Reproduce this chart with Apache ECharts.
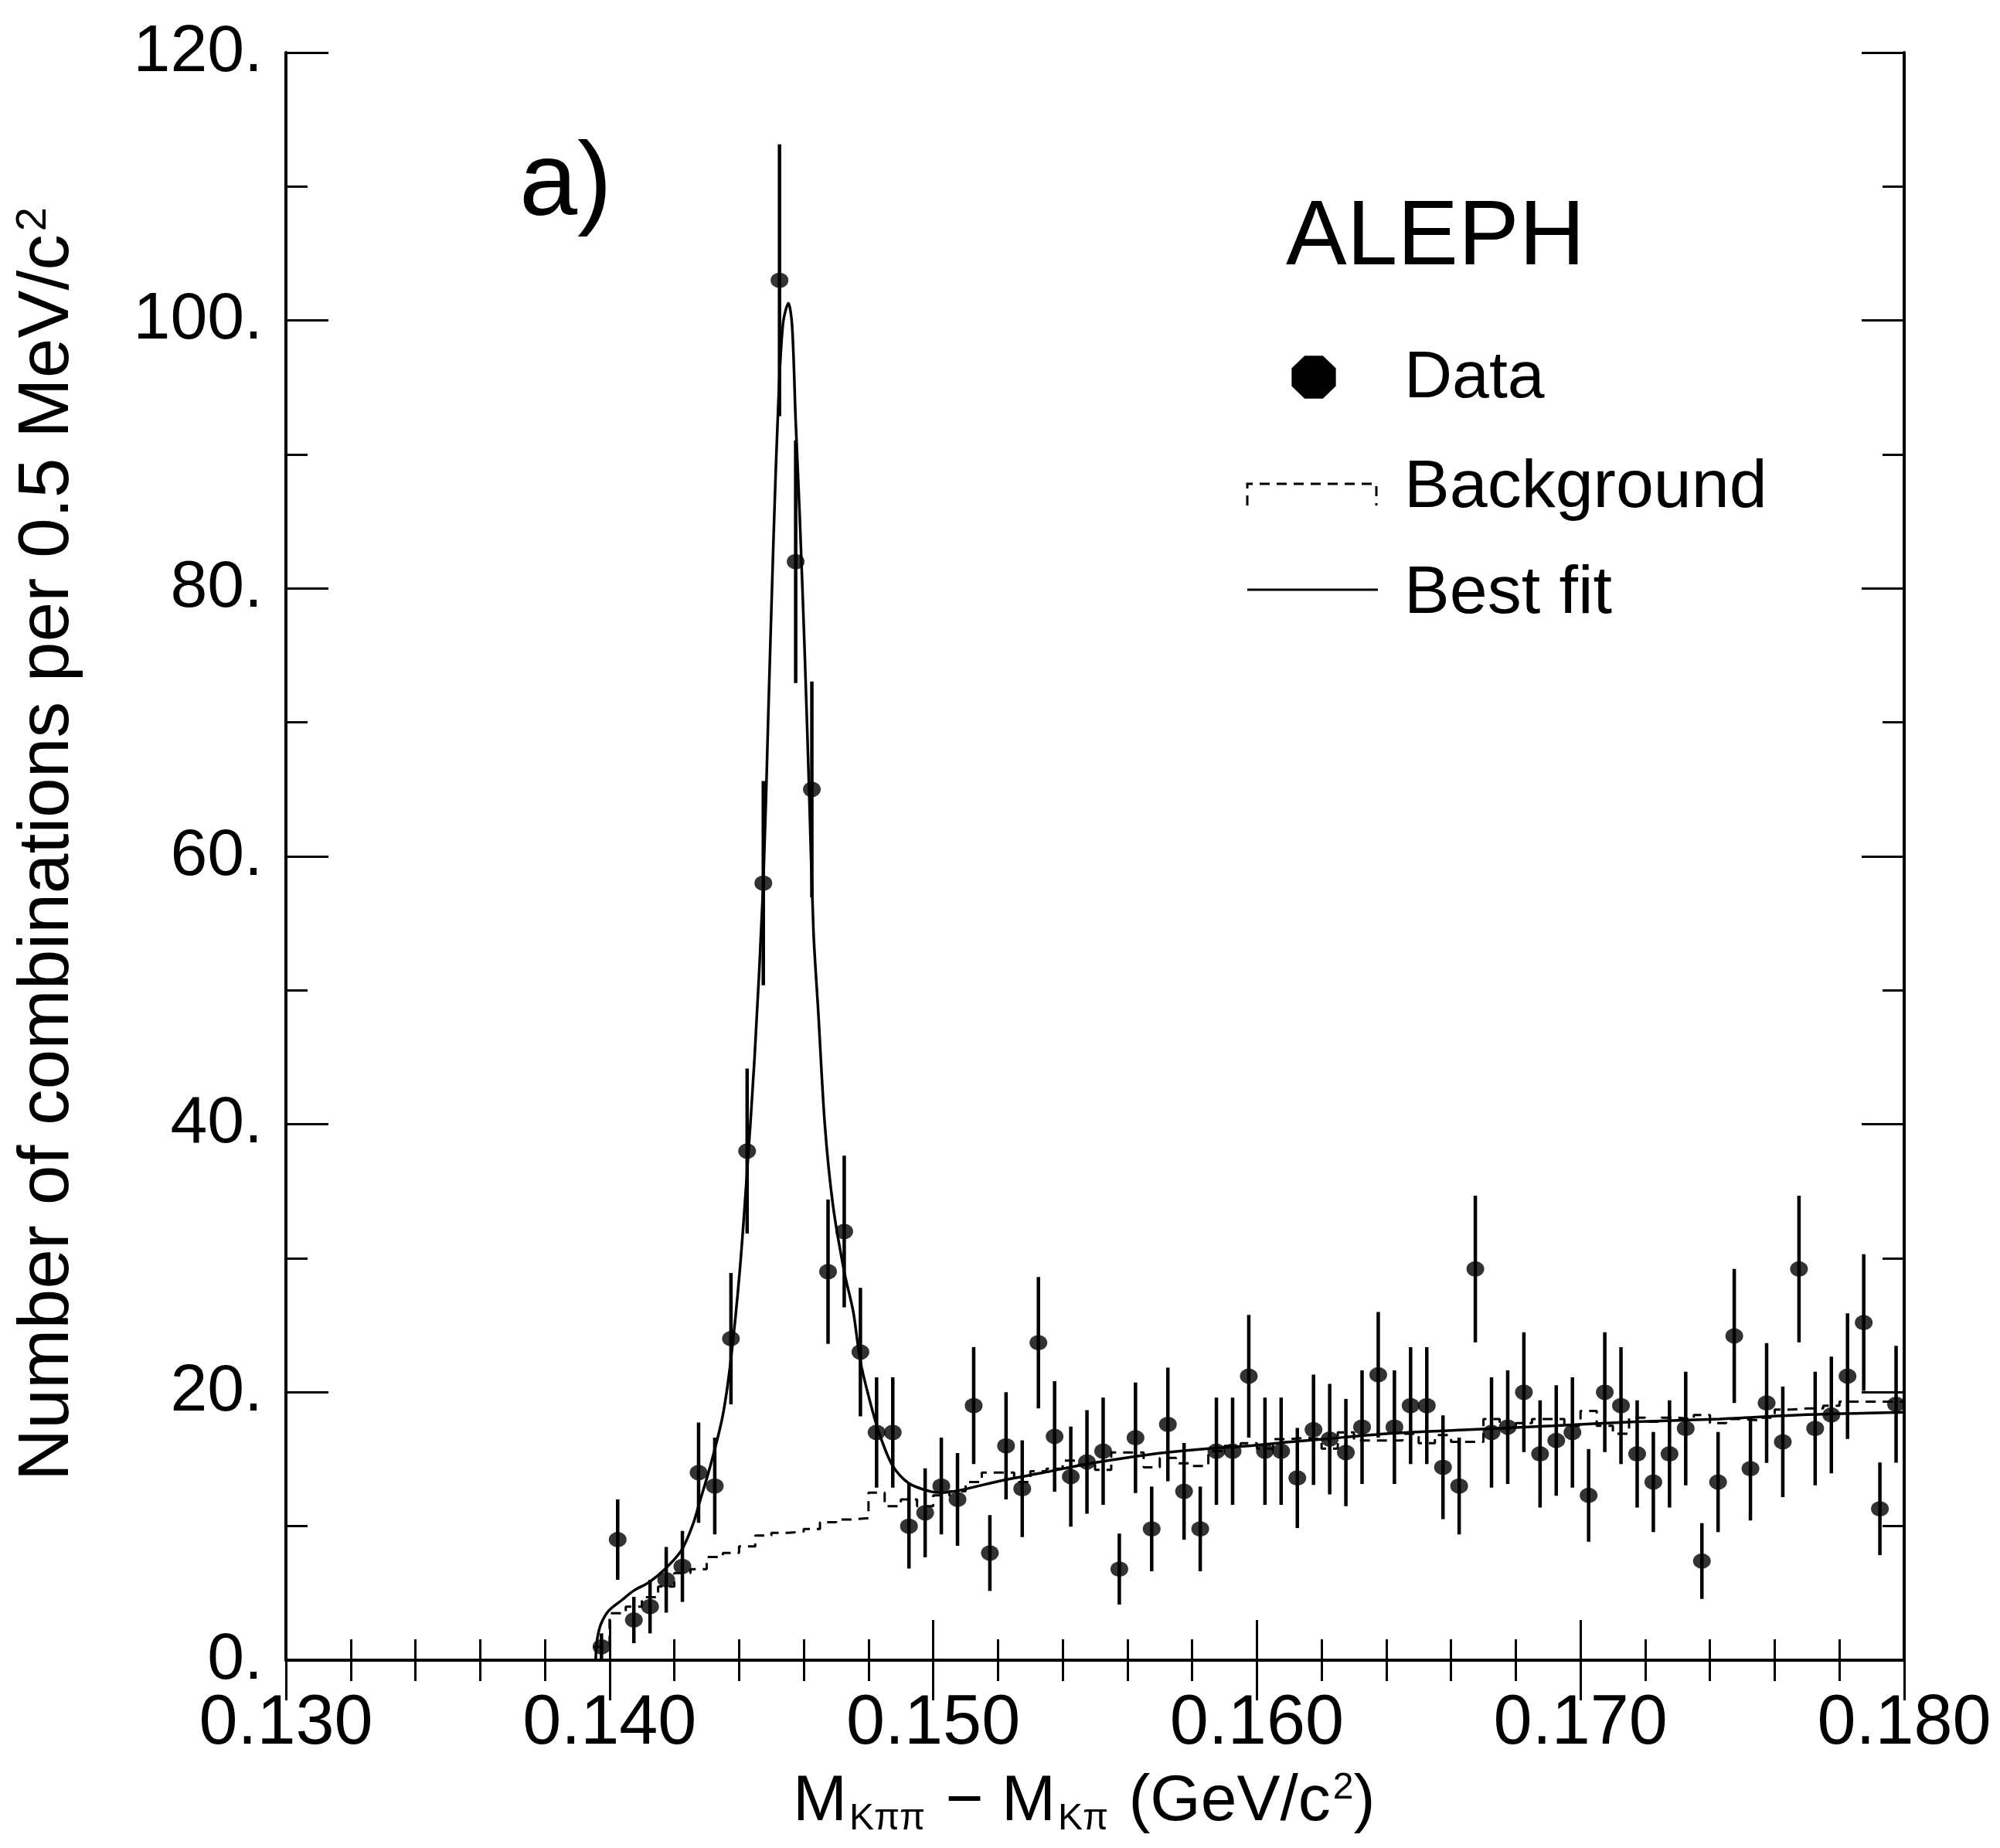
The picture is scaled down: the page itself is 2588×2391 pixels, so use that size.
<!DOCTYPE html>
<html>
<head>
<meta charset="utf-8">
<script src="https://cdn.jsdelivr.net/npm/echarts/dist/echarts.min.js"></script>
<style>html,body{margin:0;padding:0;background:#fff}#c{width:2588px;height:2391px}</style>
</head>
<body>
<div id="c"></div>
<script>
// ---- data ----
const binLow = 0.1395;      // lower edge of first 0.5 MeV bin (GeV)
const binWidth = 0.0005;    // bin width (GeV)
const counts = [1, 9, 3, 4, 6, 7, 14, 13, 24, 38, 58, 103, 82, 65, 29, 32, 23, 17, 17, 10,
  11, 13, 12, 19, 8, 16, 12.8, 23.7, 16.7, 13.7, 14.8, 15.6, 6.8, 16.6, 9.8, 17.6, 12.6, 9.8, 15.6, 15.6,
  21.2, 15.6, 15.6, 13.6, 17.2, 16.5, 15.5, 17.4, 21.3, 17.4, 19, 19, 14.4, 13, 29.2, 17, 17.4, 20, 15.4, 16.4,
  17, 12.3, 20, 19, 15.4, 13.3, 15.4, 17.3, 7.4, 13.3, 24.2, 14.3, 19.2, 16.3, 29.2, 17.3, 18.3, 21.2, 25.2, 11.3, 19.1];
const errors = [1.0, 3.0, 1.73, 2.0, 2.45, 2.65, 3.74, 3.61, 4.9, 6.16, 7.62, 10.15, 9.06, 8.06, 5.39, 5.66, 4.8, 4.12, 4.12, 3.16,
  3.32, 3.61, 3.46, 4.36, 2.83, 4.0, 3.61, 4.9, 4.12, 3.74, 3.87, 4.0, 2.65, 4.12, 3.16, 4.24, 3.61, 3.16, 4.0, 4.0,
  4.58, 4.0, 4.0, 3.74, 4.12, 4.12, 4.0, 4.24, 4.69, 4.24, 4.36, 4.36, 3.87, 3.61, 5.48, 4.12, 4.24, 4.47, 4.0, 4.12,
  4.12, 3.46, 4.47, 4.36, 4.0, 3.74, 4.0, 4.24, 2.83, 3.74, 5.0, 3.87, 4.47, 4.12, 5.48, 4.24, 4.36, 4.69, 5.1, 3.46, 4.36];
const background = [1, 3.5, 4, 4.7, 5.5, 6.5, 6.8, 7.7, 8, 8.5, 9.3, 9.5, 9.6, 9.8, 10.3, 10.5, 10.6, 12.5, 11.5, 12,
  11.5, 12.3, 12.6, 13.3, 14.0, 14.0, 13.3, 14.1, 14.3, 14.9, 14.6, 14.2, 15.5, 15.5, 14.4, 15.1, 14.7, 14.5, 15.6, 16.0,
  16.2, 15.8, 16.5, 16.6, 16.5, 15.8, 17.0, 16.4, 16.4, 16.4, 16.9, 16.2, 16.8, 16.3, 16.3, 18.0, 17.3, 17.7, 18.0, 18.0,
  17.5, 18.6, 17.5, 16.9, 18.1, 17.8, 18.1, 18.0, 18.3, 17.7, 18.0, 17.9, 18.1, 18.7, 18.8, 18.8, 19.0, 19.3, 19.3, 19.3, 19.3];
const fitX = [0.13957, 0.13960, 0.13965, 0.13975, 0.139975, 0.140385, 0.14075, 0.14121, 0.14167, 0.14222,
  0.142585, 0.14277, 0.143135, 0.1435, 0.14375, 0.14402, 0.14425, 0.14448, 0.14475, 0.144905,
  0.145065, 0.14522, 0.14536, 0.145525, 0.14564, 0.14575, 0.14587, 0.146025, 0.14616, 0.1463,
  0.14645, 0.14665, 0.1469, 0.14725, 0.14753, 0.14775, 0.14808, 0.14835, 0.14875, 0.14925,
  0.1499, 0.15025, 0.15085, 0.1521, 0.1534, 0.15465, 0.15595, 0.1572, 0.1585, 0.15975,
  0.16105, 0.16205, 0.164, 0.16655, 0.16915, 0.1717, 0.1743, 0.17675, 0.18];
const fitY = [0, 1.2, 2.0, 2.8, 3.7, 4.5, 5.2, 5.8, 6.7, 8.2,
  10.2, 11.7, 14.7, 18.3, 22.5, 29, 36.5, 45, 58, 70.7,
  83.7, 94.2, 99.8, 101.3, 99.6, 92.5, 85.7, 75.5, 65.3, 54.4,
  48.3, 40, 34, 29, 26, 22.3, 19, 16.8, 14.5, 13.2,
  12.6, 12.5, 12.7, 13.4, 14.0, 14.6, 15.1, 15.5, 15.8, 16.0,
  16.3, 16.5, 16.9, 17.2, 17.5, 17.8, 18.0, 18.3, 18.5];
const xTickLabels = ['0.130', '0.140', '0.150', '0.160', '0.170', '0.180'];
const yTickLabels = ['0.', '20.', '40.', '60.', '80.', '100.', '120.'];
const legendLabels = ['Data', 'Background', 'Best fit'];

// ---- build library inputs ----
const FONT = 'Liberation Sans';
const centers = counts.map((c, i) => binLow + (i + 0.5) * binWidth);
const pointData = counts.map((c, i) => [centers[i], c]);
const barData = counts.map((c, i) => [centers[i], c - errors[i], c + errors[i]]);
const bkgData = background.map((b, i) => [binLow + i * binWidth, b]);
bkgData.push([binLow + background.length * binWidth, background[background.length - 1]]);
const fitData = fitX.map((x, i) => [x, fitY[i]]);

const axisCommon = {
  axisLine: { show: true, lineStyle: { color: '#000', width: 4 } },
  splitLine: { show: false },
};
const xBase = Object.assign({}, axisCommon, {
  type: 'value', min: 0.13, max: 0.18, interval: 0.01,
  axisTick: { show: true, inside: true, length: 52, lineStyle: { color: '#000', width: 3 } },
  minorTick: { show: true, splitNumber: 5, length: 27, lineStyle: { color: '#000', width: 3 } },
});
const yBase = Object.assign({}, axisCommon, {
  type: 'value', min: 0, max: 120, interval: 20,
  axisTick: { show: true, inside: true, length: 55, lineStyle: { color: '#000', width: 3 } },
  minorTick: { show: true, splitNumber: 2, length: 28, lineStyle: { color: '#000', width: 3 } },
});

// octagon for legend marker
const oct = [];
for (let k = 0; k < 8; k++) {
  const a = Math.PI / 8 + k * Math.PI / 4;
  oct.push([1700 + 31 * Math.cos(a), 488 + 30 * Math.sin(a)]);
}

const chart = echarts.init(document.getElementById('c'), null, { renderer: 'canvas' });
chart.setOption({
  animation: false,
  backgroundColor: '#fff',
  grid: { left: 370, right: 124, top: 68, bottom: 243, containLabel: false },
  xAxis: [
    Object.assign({}, xBase, {
      position: 'bottom',
      axisLabel: { show: true, margin: 38, color: '#000', fontFamily: FONT, fontSize: 90,
        formatter: v => xTickLabels[Math.round((v - 0.13) / 0.01)] || '' }
    }),
    Object.assign({}, xBase, { position: 'top', axisLabel: { show: false } })
  ],
  yAxis: [
    Object.assign({}, yBase, {
      position: 'left',
      axisLabel: { show: true, margin: 30, color: '#000', fontFamily: FONT, fontSize: 86,
        formatter: v => yTickLabels[Math.round(v / 20)] || '' }
    }),
    Object.assign({}, yBase, { position: 'right', axisLabel: { show: false } })
  ],
  series: [
    {
      name: 'Background', type: 'line', step: 'end', data: bkgData, symbol: 'none',
      lineStyle: { color: '#000', width: 3, type: [13, 9] }, z: 2, silent: true
    },
    {
      name: 'Best fit', type: 'line', data: fitData, symbol: 'none', smooth: 0.3,
      lineStyle: { color: '#000', width: 3.5 }, z: 3, silent: true
    },
    {
      name: 'errors', type: 'custom', data: barData, encode: { x: 0, y: [1, 2] }, z: 4, silent: true,
      renderItem: function (params, api) {
        const x = api.value(0);
        const p1 = api.coord([x, api.value(1)]);
        const p2 = api.coord([x, api.value(2)]);
        return { type: 'line', shape: { x1: p1[0], y1: p1[1], x2: p2[0], y2: p2[1] },
          style: { stroke: '#000', lineWidth: 4.5 } };
      }
    },
    {
      name: 'Data', type: 'scatter', data: pointData, symbol: 'circle', symbolSize: [23, 20],
      itemStyle: { color: '#000' }, z: 5, silent: true
    }
  ],
  graphic: [
    { type: 'text', x: 672, y: 241, style: { text: 'a)', fill: '#000', font: '135px "Liberation Sans"', align: 'left', verticalAlign: 'middle' } },
    { type: 'text', x: 1664, y: 309, style: { text: 'ALEPH', fill: '#000', font: '118px "Liberation Sans"', align: 'left', verticalAlign: 'middle' } },
    { type: 'polygon', shape: { points: oct }, style: { fill: '#000' } },
    { type: 'text', x: 1817, y: 490, style: { text: legendLabels[0], fill: '#000', font: '86px "Liberation Sans"', align: 'left', verticalAlign: 'middle' } },
    { type: 'polyline', shape: { points: [[1614, 654], [1614, 626], [1781, 626], [1781, 654]] },
      style: { stroke: '#000', lineWidth: 3, lineDash: [13, 9], fill: null } },
    { type: 'text', x: 1817, y: 632, style: { text: legendLabels[1], fill: '#000', font: '88px "Liberation Sans"', align: 'left', verticalAlign: 'middle' } },
    { type: 'line', shape: { x1: 1614, y1: 763, x2: 1783, y2: 763 }, style: { stroke: '#000', lineWidth: 3 } },
    { type: 'text', x: 1817, y: 769, style: { text: legendLabels[2], fill: '#000', font: '88px "Liberation Sans"', align: 'left', verticalAlign: 'middle' } },
    { type: 'text', x: 1026, y: 2334,
      style: {
        text: '{m|M}{b|Kππ}{m| − M}{b|Kπ}{m| (GeV/c}{s|2}{m|)}', fill: '#000', align: 'left', verticalAlign: 'middle',
        rich: {
          m: { fontSize: 84, lineHeight: 88, fontFamily: FONT, verticalAlign: 'top', fill: '#000' },
          b: { fontSize: 48, lineHeight: 48, fontFamily: FONT, verticalAlign: 'bottom', padding: [56, 3, 0, 3], fill: '#000' },
          s: { fontSize: 48, lineHeight: 48, fontFamily: FONT, verticalAlign: 'top', padding: [0, 0, 0, 3], fill: '#000' }
        }
      } },
    { type: 'text', x: 64, y: 1092, rotation: Math.PI / 2,
      style: {
        text: '{m|Number of combinations per 0.5 MeV/c}{s|2}', fill: '#000', align: 'center', verticalAlign: 'middle',
        rich: {
          m: { fontSize: 93, lineHeight: 97, fontFamily: FONT, verticalAlign: 'top', fill: '#000' },
          s: { fontSize: 56, lineHeight: 56, fontFamily: FONT, verticalAlign: 'top', padding: [0, 0, 0, 4], fill: '#000' }
        }
      } }
  ]
});
</script>
</body>
</html>
